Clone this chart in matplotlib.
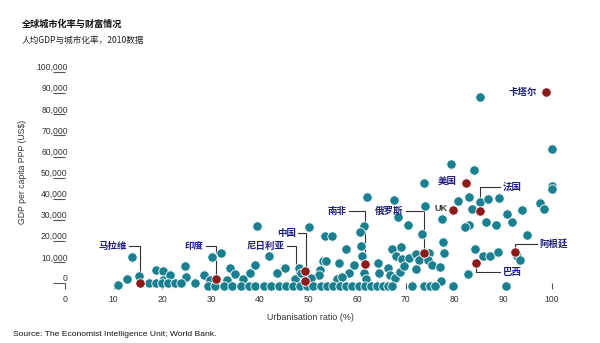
import matplotlib
matplotlib.use("Agg")
import matplotlib.pyplot as plt
import numpy as np

plt.rcParams['font.family'] = ['Liberation Sans', 'Noto Sans CJK SC', 'DejaVu Sans']

TEAL = '#1a7f8e'
RED = '#8c1c1c'
NAVY = '#1f1f80'
GREY = '#333333'

# urbanisation ratio (%) and GDP per capita PPP (US$), all other countries
urban = [85.2, 100.0, 100.0, 100.0, 79.3, 84.1, 73.8, 62.0, 67.6, 74.0, 80.7, 82.9,
         85.2, 86.9, 89.2, 83.7, 90.7, 93.8, 97.5, 98.4, 68.3, 70.4, 77.4, 83.0,
         82.2, 86.4, 88.6, 91.9, 94.8, 61.4, 60.6, 50.2, 53.4, 54.9, 73.4, 77.6,
         77.9, 84.2, 85.9, 87.3, 89.0, 92.9, 93.4, 57.7, 60.9, 61.0, 67.1, 69.1,
         67.9, 69.2, 70.6, 72.1, 72.7, 74.7, 74.5, 75.3, 77.0, 82.7, 77.2, 52.9,
         53.6, 56.2, 59.4, 58.3, 64.3, 64.4, 66.3, 66.7, 67.7, 68.9, 69.6, 72.1,
         52.4, 52.1, 55.8, 56.8, 61.5, 61.9, 39.5,
         12.7, 13.7, 15.3, 18.6, 20.2, 20.2, 21.6, 24.6, 24.8, 28.5, 30.1, 32.1,
         33.9, 34.9, 33.3, 36.5, 38.0, 39.0, 41.9, 43.6, 45.2, 47.2, 48.1, 48.5,
         29.8, 50.5,
         17.3, 18.6, 19.9, 21.1, 22.6, 23.8, 26.7,
         10.9, 29.4, 30.8, 32.6, 34.4, 36.2, 37.7, 39.1, 40.9, 42.4, 43.9, 45.4,
         46.8, 48.3, 49.7, 51.0, 52.5, 53.8, 55.0, 56.4, 57.7, 59.0, 60.3, 61.6,
         62.9, 64.1, 65.3, 66.3, 67.2, 71.3, 73.8, 74.9, 76.1, 79.7, 90.6]
gdp = [88000, 63700, 46200, 44500, 56600, 53500, 47700, 40800, 39300, 36600, 39200, 40900,
       38400, 39800, 40300, 35200, 33000, 34700, 38100, 35400, 31300, 27700, 30600, 27800,
       26600, 29100, 27500, 29100, 23100, 27300, 24500, 26600, 22300, 22300, 23400, 19500,
       14400, 16500, 12900, 12900, 15000, 12900, 11000, 16500, 17700, 13100, 16500, 17400,
       13100, 11600, 11900, 14000, 11000, 14300, 11100, 8800, 7900, 4500, 1300, 10800,
       10800, 9600, 8800, 5100, 9600, 5100, 7200, 3900, 2500, 5400, 8300, 6900,
       6400, 4200, 2300, 3200, 5100, 2000, 27300,
       2300, 12500, 3700, 6200, 5800, 1700, 3900, 8100, 2900, 4200, 12400, 14600,
       7500, 4500, 1700, 2000, 5100, 8900, 13000, 5100, 7200, 2000, 7200, 4800,
       1800, 2600,
       200, 200, 200, 100, 300, 400, 400,
       -800, -1100, -1100, -1100, -1100, -1100, -1100, -1100, -1100, -1100, -1100, -1100,
       -1100, -1100, -1100, -1100, -1100, -1100, -1100, -1100, -1100, -1100, -1100, -1100,
       -1100, -1100, -1100, -1100, -1100, -1100, -1100, -1100, -1100, -1100, -1100]

# highlighted countries
hl_names = ['马拉维', '印度', '尼日利亚', '中国', '南非', '俄罗斯', 'UK', '美国', '法国',
            '巴西', '阿根廷', '卡塔尔']
hl_urban = [15.4, 31.1, 49.3, 49.4, 61.7, 73.8, 79.6, 82.3, 85.3, 84.5, 92.5, 98.7]
hl_gdp = [0, 2300, 1300, 6050, 9080, 14560, 34750, 47660, 34280, 9830, 14750, 90540]

yticks = np.arange(0, 100001, 10000)
xticks = np.arange(0, 101, 10)

fig = plt.figure(figsize=(6.0, 3.43), dpi=100)
ax = fig.add_axes([0.1083, 0.1551, 0.852, 0.6472])

ax.scatter(urban, gdp, s=46, color=TEAL, edgecolor='white', linewidth=0.6, zorder=3)
ax.scatter(hl_urban, hl_gdp, s=46, color=RED, edgecolor='white', linewidth=0.6, zorder=4)

ax.set_xlim(0, 105)
ax.set_ylim(-3000, 102000)
for s in ['top', 'right', 'left']:
    ax.spines[s].set_visible(False)
ax.spines['bottom'].set_position(('data', 0))
ax.spines['bottom'].set_color('none')

ax.set_yticks(yticks)
ax.set_yticklabels(['{:,}'.format(v) for v in yticks])
ax.tick_params(axis='y', direction='out', length=9, width=0.8, color='#555555',
               pad=-11, labelsize=6.2, labelcolor=GREY)
for lab in ax.get_yticklabels():
    lab.set_verticalalignment('bottom')

ax.set_xticks(xticks)
ax.set_xticklabels([str(v) for v in xticks])
ax.tick_params(axis='x', direction='out', length=4, width=0.8, color='#555555',
               pad=4.5, labelsize=6.2, labelcolor=GREY)

lbl = dict(fontsize=6.8, color=NAVY, fontweight='bold',
           family=['Noto Sans CJK SC', 'DejaVu Sans'], va='center')
line = dict(color=GREY, lw=0.8, zorder=2)

# leader lines: label -> elbow -> point
ax.text(12.7, 17870, '马拉维', ha='right', **lbl)
ax.plot([13.2, 15.4, 15.4], [17870, 17870, 3000], **line)
ax.text(28.5, 17730, '印度', ha='right', **lbl)
ax.plot([29.0, 31.1, 31.1], [17730, 17730, 3900], **line)
ax.text(45.2, 17870, '尼日利亚', ha='right', **lbl)
ax.plot([45.7, 47.5, 47.5], [17870, 17870, 2600], **line)
ax.text(47.4, 23730, '中国', ha='right', **lbl)
ax.plot([47.9, 49.5, 49.5], [23730, 23730, 8200], **line)
ax.text(57.9, 34280, '南非', ha='right', **lbl)
ax.plot([58.4, 61.7, 61.7], [34280, 34280, 11200], **line)
ax.text(69.6, 34280, '俄罗斯', ha='right', **lbl)
ax.plot([70.1, 73.8, 73.8], [34280, 34280, 16700], **line)
ax.text(78.6, 35550, 'UK', ha='right', fontsize=6.6, color='#3a3a3a',
        fontweight='bold', va='center')
ax.text(80.4, 48460, '美国', ha='right', **lbl)
ax.text(96.9, 90400, '卡塔尔', ha='right', **lbl)
ax.text(89.9, 45480, '法国', ha='left', **lbl)
ax.plot([85.3, 85.3, 89.4], [36400, 45480, 45480], **line)
ax.text(97.5, 18680, '阿根廷', ha='left', **lbl)
ax.plot([92.5, 92.5, 97.0], [16900, 18680, 18680], **line)
ax.text(89.9, 5440, '巴西', ha='left', **lbl)
ax.plot([84.5, 84.5, 89.4], [7700, 5440, 5440], **line)

cjk = ['Noto Sans CJK SC', 'DejaVu Sans']
fig.text(22 / 600, 1 - 24 / 343, '全球城市化率与财富情况', fontsize=6.6, fontweight='bold',
         color='#111111', family=cjk, va='center', ha='left')
fig.text(22 / 600, 1 - 40 / 343, '人均GDP与城市化率，2010数据', fontsize=6.2,
         color='#222222', family=cjk, va='center', ha='left')
fig.text(23 / 600, 1 - 172 / 343, 'GDP per capita PPP (US$)', fontsize=6.2, color=GREY,
         rotation=90, va='center', ha='center')
fig.text(310 / 600, 1 - 317 / 343, 'Urbanisation ratio (%)', fontsize=6.4, color=GREY,
         va='center', ha='center')
fig.text(13 / 600, 1 - 334 / 343, 'Source: The Economist Intelligence Unit; World Bank.',
         fontsize=6.1, color='#111111', va='center', ha='left')

fig.savefig('out.png', dpi=100)
